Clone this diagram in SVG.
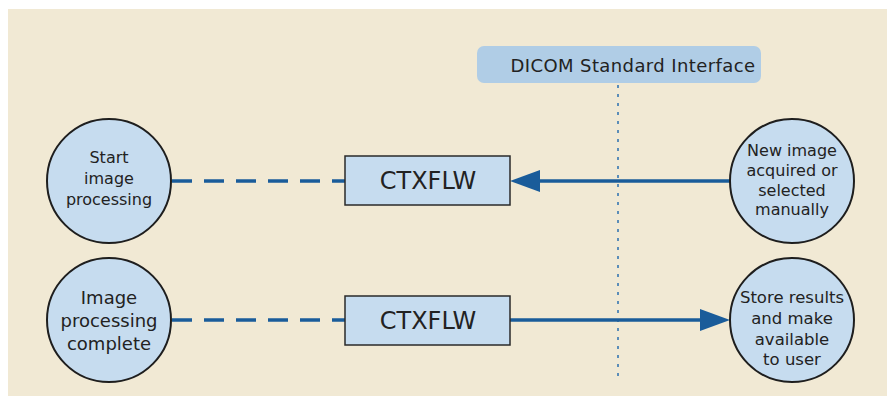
<svg xmlns="http://www.w3.org/2000/svg" width="887" height="396" viewBox="0 0 887 396">
<defs>
<style>
.bg{fill:#f1e9d4}
.node circle{fill:#c6dcef;stroke:#1e1e1e;stroke-width:2}
.box rect{fill:#c6dcef;stroke:#2a2a2a;stroke-width:1.5}
text{font-family:"DejaVu Sans","Liberation Sans",sans-serif;fill:#222;text-anchor:middle}
.dash{stroke:#1a5c9a;stroke-width:3.5;stroke-dasharray:20 12;fill:none}
.solid{stroke:#1a5c9a;stroke-width:3.5;fill:none}
.dot{stroke:#5b8db8;stroke-width:2;stroke-dasharray:3 6;fill:none}
</style>
</defs>
<rect class="bg" x="8" y="9" width="879" height="387"/>
<g id="dicom">
<rect x="477" y="46" width="284" height="37" rx="7" fill="#b0cde6"/>
<text x="633" y="72" font-size="18" letter-spacing="0.4">DICOM Standard Interface</text>
</g>
<g id="connectors">
<line class="dot" x1="618" y1="85" x2="618" y2="382"/>
<line class="dash" x1="172" y1="181" x2="345" y2="181"/>
<line class="dash" x1="172" y1="320" x2="345" y2="320"/>
<line class="solid" x1="730" y1="181" x2="538" y2="181"/>
<path d="M510,181 L540,170 L540,192 Z" fill="#1a5c9a"/>
<line class="solid" x1="510" y1="320" x2="702" y2="320"/>
<path d="M730,320 L700,309 L700,331 Z" fill="#1a5c9a"/>
</g>
<g id="start" class="node">
<circle cx="109" cy="181" r="62"/>
<text font-size="16"><tspan x="109" y="163">Start</tspan><tspan x="109" y="184">image</tspan><tspan x="109" y="205">processing</tspan></text>
</g>
<g id="complete" class="node">
<circle cx="109" cy="320" r="62"/>
<text font-size="18"><tspan x="109" y="304">Image</tspan><tspan x="109" y="327">processing</tspan><tspan x="109" y="350">complete</tspan></text>
</g>
<g id="newimage" class="node">
<circle cx="792" cy="181" r="62"/>
<text font-size="16"><tspan x="792" y="156">New image</tspan><tspan x="792" y="176">acquired or</tspan><tspan x="792" y="196">selected</tspan><tspan x="792" y="215">manually</tspan></text>
</g>
<g id="store" class="node">
<circle cx="792" cy="320" r="62"/>
<text font-size="16.5"><tspan x="792" y="303">Store results</tspan><tspan x="792" y="324">and make</tspan><tspan x="792" y="345">available</tspan><tspan x="792" y="365">to user</tspan></text>
</g>
<g id="ctx1" class="box">
<rect x="345" y="156" width="165" height="49"/>
<text x="428" y="189" font-size="24">CTXFLW</text>
</g>
<g id="ctx2" class="box">
<rect x="345" y="296" width="165" height="49"/>
<text x="428" y="329" font-size="24">CTXFLW</text>
</g>
</svg>
